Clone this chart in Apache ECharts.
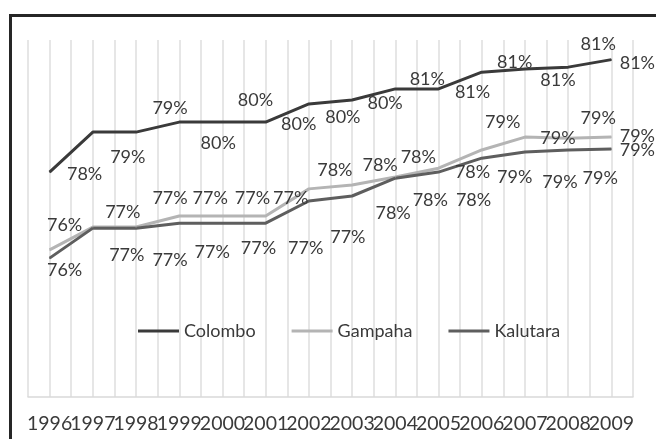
<!DOCTYPE html>
<html>
<head>
<meta charset="utf-8">
<script src="https://cdn.jsdelivr.net/npm/echarts@6/dist/echarts.min.js"></script>
<style>
  html, body { margin: 0; padding: 0; background: #fff; }
  #chart { width: 656px; height: 439px; }
</style>
</head>
<body>
<div id="chart"></div>
<script>
// Years on the category axis
const years = ['1996','1997','1998','1999','2000','2001','2002','2003','2004','2005','2006','2007','2008','2009'];

// Share per district (percent)
const colombo  = [78.3, 79.42, 79.42, 79.7, 79.7, 79.7, 80.21, 80.32, 80.63, 80.63, 81.1, 81.19, 81.24, 81.45];
const gampaha  = [76.12, 76.76, 76.76, 77.07, 77.07, 77.07, 77.83, 77.94, 78.16, 78.41, 78.92, 79.28, 79.25, 79.28];
const kalutara = [75.89, 76.73, 76.73, 76.87, 76.87, 76.87, 77.49, 77.63, 78.13, 78.3, 78.69, 78.86, 78.92, 78.95];

// Label nudges [dx, dy] in pixels, so the value labels do not collide
const colomboNudge  = [[35,2],[35,25],[34,-24],[39,21],[33,-22],[33,2],[34,13],[33,3],[32,-10],[34,3],[33,-10],[33,11],[30,-23],[26,4]];
const gampahaNudge  = [[15,-25],[30,-15],[34,-29],[31,-18],[30,-18],[25,-18],[26,-19],[28,-20],[23,-20],[34,4],[21,-28],[33,1],[30,-20],[26,-1]];
const kalutaraNudge = [[15,12],[34,27],[34,32],[33,29],[36,25],[40,25],[39,36],[41,17],[35,22],[35,28],[33,19],[35,30],[32,28],[26,1]];

const FONT = 'Lato';
const TEXT = '#3a3a3a';

function withLabels(values, nudges) {
  return values.map((v, i) => ({
    value: v,
    label: { offset: nudges[i] }
  }));
}

function lineSeries(name, values, nudges, color) {
  return {
    name: name,
    type: 'line',
    xAxisIndex: 0,
    data: withLabels(values, nudges),
    symbol: 'circle',
    symbolSize: 1,
    showSymbol: true,
    itemStyle: { color: color },
    lineStyle: { color: color, width: 3 },
    label: {
      show: true,
      position: 'inside',
      align: 'center',
      verticalAlign: 'middle',
      fontFamily: FONT,
      fontSize: 18,
      color: TEXT,
      formatter: p => Math.round(p.value) + '%'
    },
    emphasis: { disabled: true },
    animation: false
  };
}

const chart = echarts.init(document.getElementById('chart'), null, { renderer: 'canvas' });

chart.setOption({
  backgroundColor: '#ffffff',
  animation: false,
  grid: { left: 28, right: 23, top: 40, bottom: 42 },
  xAxis: [
    {
      type: 'category',
      data: years,
      boundaryGap: true,
      axisLine: { show: true, lineStyle: { color: '#d9d9d9', width: 1.5 } },
      axisTick: { show: false },
      splitLine: { show: false },
      axisLabel: {
        interval: 0,
        margin: 17,
        fontFamily: FONT,
        fontSize: 19.5,
        color: TEXT
      }
    },
    {
      // half-category guide lines: category edges and centres
      type: 'value',
      min: 0,
      max: years.length * 2,
      interval: 1,
      position: 'top',
      axisLine: { show: false },
      axisTick: { show: false },
      axisLabel: { show: false },
      splitLine: { show: true, lineStyle: { color: '#dedede', width: 1.5 } }
    }
  ],
  yAxis: {
    type: 'value',
    min: 72,
    max: 82,
    show: false
  },
  legend: {
    left: 133,
    top: 317,
    itemWidth: 41,
    itemHeight: 3,
    itemGap: 36,
    icon: 'rect',
    textStyle: { fontFamily: FONT, fontSize: 18, color: TEXT, padding: [0, 0, 0, 0] },
    data: ['Colombo', 'Gampaha', 'Kalutara']
  },
  graphic: [
    {
      type: 'rect',
      shape: { x: 10.5, y: 15.5, width: 700, height: 500 },
      style: { fill: 'none', stroke: '#262626', lineWidth: 3 },
      silent: true
    }
  ],
  series: [
    lineSeries('Colombo', colombo, colomboNudge, '#3a3a3a'),
    lineSeries('Gampaha', gampaha, gampahaNudge, '#b4b4b4'),
    lineSeries('Kalutara', kalutara, kalutaraNudge, '#5e5e5e')
  ]
});
</script>
</body>
</html>
